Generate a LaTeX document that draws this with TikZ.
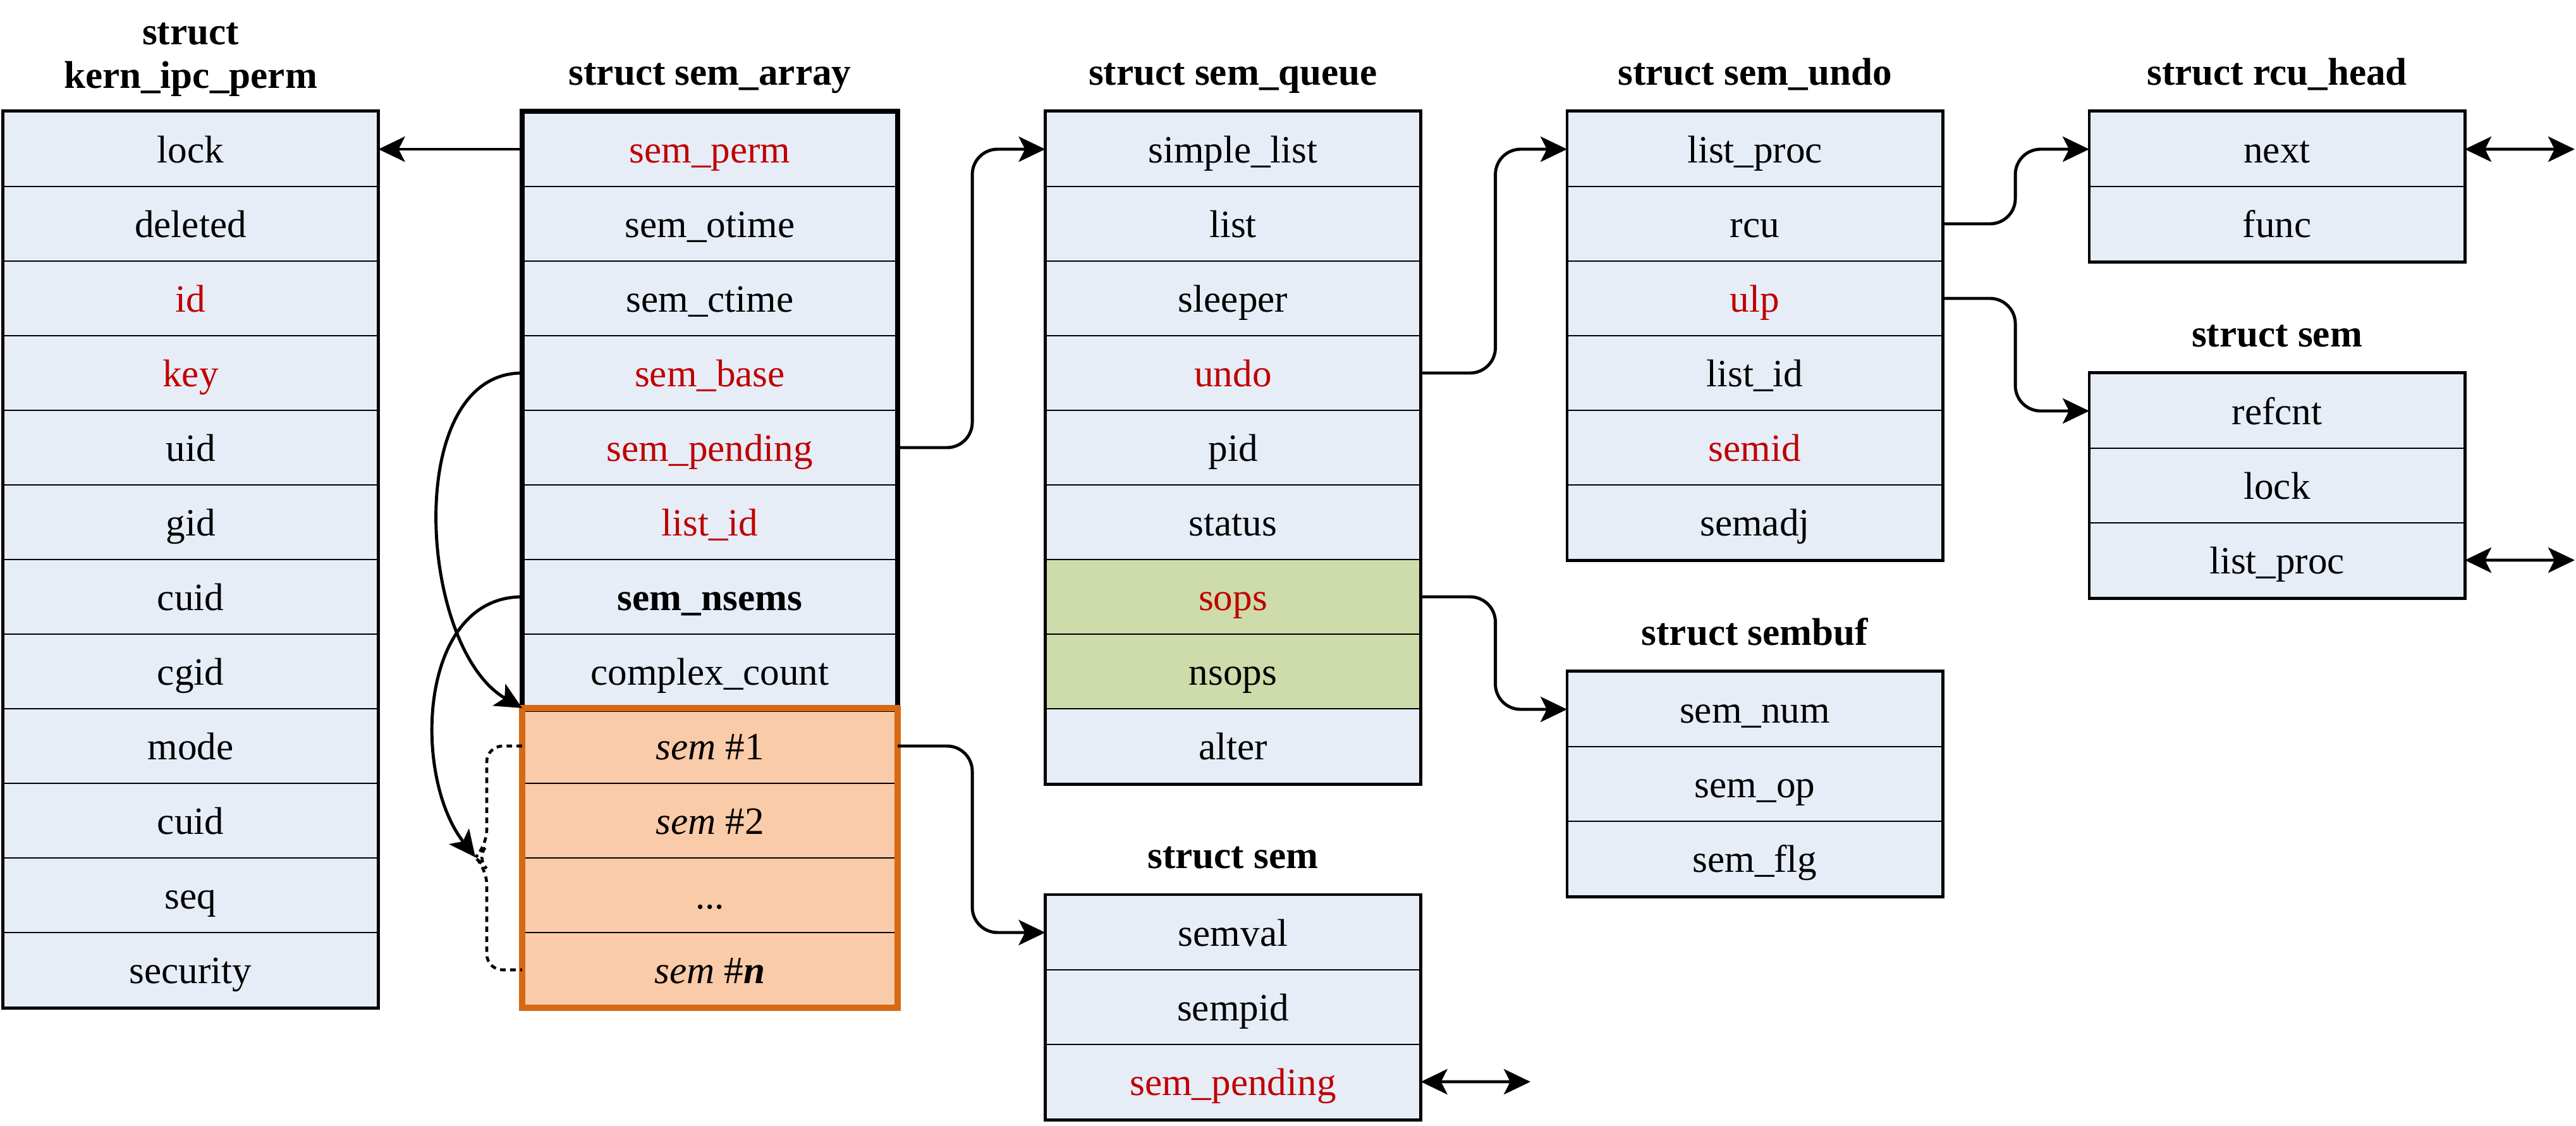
\documentclass[tikz,border=0pt]{standalone}
\usepackage{fontspec}
\setmainfont{Liberation Serif}
\usetikzlibrary{arrows.meta}
\definecolor{fieldblue}{RGB}{231,237,247}
\definecolor{fieldgreen}{RGB}{205,220,170}
\definecolor{fieldorange}{RGB}{250,203,168}
\definecolor{edgeorange}{RGB}{215,105,20}
\definecolor{fieldred}{RGB}{192,0,0}
\newcommand{\hot}[1]{\textcolor{fieldred}{#1}}
\newcommand{\semno}[1]{\textit{sem} \##1}
\newcommand{\moresems}{...}
\tikzset {
    field/.style = {
        draw, line width = 0.6pt, fill = fieldblue,
        minimum width = 5.92cm, minimum height = 1.18cm, inner sep = 0pt,
        text height = 15pt, text depth = 3pt,
        font = \fontsize{17.4}{20}\selectfont
    },
    greenfield/.style = {field, fill = fieldgreen},
    orangefield/.style = {field, fill = fieldorange},
    frame/.style = {line width = 1.4pt},
    heavy frame/.style = {line width = 2.3pt},
    orange frame/.style = {line width = 2.8pt, draw = edgeorange},
    title/.style = {anchor = base, font = \fontsize{17.4}{20}\selectfont\bfseries},
    >= {Stealth[length = 0.42cm, width = 0.4cm, inset = 0.1cm]},
    link/.style = {line width = 1.4pt, ->, rounded corners = 0.4cm},
    twoway/.style = {line width = 1.4pt, <->},
    brace/.style = {line width = 1.3pt, dash pattern = on 2.5pt off 2pt, rounded corners = 0.25cm}
}

\begin{document}
\begin{tikzpicture}
    \useasboundingbox (0, 0) rectangle (40.75, -17.81);
    % struct kern_ipc_perm
    \foreach \f [count = \i] in {lock, deleted, \hot{id}, \hot{key}, uid, gid,
        cuid, cgid, mode, cuid, seq, security}
        \node[field] (kern\i) at (3.015, {-1.18*(\i+1)}) {\f};
    \draw[frame] (kern1.north west) rectangle (kern12.south east);
    \node[title] (kernhead1) at (3.015, -0.71) {struct};
    \node[title] (kernhead2) at (3.015, -1.39) {kern\_ipc\_perm};
    % struct sem_array
    \foreach \f [count = \i] in {\hot{sem\_perm}, sem\_otime, sem\_ctime,
        \hot{sem\_base}, \hot{sem\_pending}, \hot{list\_id},
        \textbf{sem\_nsems}, complex\_count}
        \node[field] (arr\i) at (11.23, {-1.18*(\i+1)}) {\f};
    \node[orangefield] (arr9) at (11.23, -11.80) {\semno{1}};
    \node[orangefield] (arr10) at (11.23, -12.98) {\semno{2}};
    \node[orangefield] (arr11) at (11.23, -14.16) {\moresems};
    \node[orangefield] (arr12) at (11.23, -15.34) {\semno{\textbf{\textit{n}}}};
    \draw[heavy frame] (arr1.north west) rectangle (arr8.south east);
    \draw[orange frame] (arr9.north west) rectangle (arr12.south east);
    \node[title] (arrhead) at ([yshift = 0.41cm]arr1.north) {struct sem\_array};
    % struct sem_queue
    \foreach \f/\s [count = \i] in {simple\_list/field, list/field, sleeper/field,
        \hot{undo}/field, pid/field, status/field, \hot{sops}/greenfield,
        nsops/greenfield, alter/field}
        \node[\s] (queue\i) at (19.505, {-1.18*(\i+1)}) {\f};
    \draw[frame] (queue1.north west) rectangle (queue9.south east);
    \node[title] (queuehead) at ([yshift = 0.41cm]queue1.north) {struct sem\_queue};
    % struct sem_undo
    \foreach \f [count = \i] in {list\_proc, rcu, \hot{ulp}, list\_id, \hot{semid}, semadj}
        \node[field] (undo\i) at (27.76, {-1.18*(\i+1)}) {\f};
    \draw[frame] (undo1.north west) rectangle (undo6.south east);
    \node[title] (undohead) at ([yshift = 0.41cm]undo1.north) {struct sem\_undo};
    % struct rcu_head
    \foreach \f [count = \i] in {next, func}
        \node[field] (rcu\i) at (36.02, {-1.18*(\i+1)}) {\f};
    \draw[frame] (rcu1.north west) rectangle (rcu2.south east);
    \node[title] (rcuhead) at ([yshift = 0.41cm]rcu1.north) {struct rcu\_head};
    % struct sem (right)
    \foreach \f [count = \i] in {refcnt, lock, list\_proc}
        \node[field] (rsem\i) at (36.02, {-5.32-1.18*\i}) {\f};
    \draw[frame] (rsem1.north west) rectangle (rsem3.south east);
    \node[title] (rsemhead) at ([yshift = 0.41cm]rsem1.north) {struct sem};
    % struct sembuf
    \foreach \f [count = \i] in {sem\_num, sem\_op, sem\_flg}
        \node[field] (buf\i) at (27.76, {-10.04-1.18*\i}) {\f};
    \draw[frame] (buf1.north west) rectangle (buf3.south east);
    \node[title] (bufhead) at ([yshift = 0.41cm]buf1.north) {struct sembuf};
    % struct sem (bottom)
    \foreach \f [count = \i] in {semval, sempid, \hot{sem\_pending}}
        \node[field] (sem\i) at (19.505, {-13.57-1.18*\i}) {\f};
    \draw[frame] (sem1.north west) rectangle (sem3.south east);
    \node[title] (semhead) at ([yshift = 0.41cm]sem1.north) {struct sem};
    % free ends
    \coordinate (rcuend) at (40.73, -2.36);
    \coordinate (rsemend) at (40.73, -8.86);
    \coordinate (semend) at (24.21, -17.11);
    \coordinate (bracetip) at (7.52, -13.56);
    % links
    \draw[link] (arr1.west) -- (kern1.east);
    \draw[link] (arr5.east) -- ++(1.18, 0) |- (queue1.west);
    \draw[link] (arr9.east) -- ++(1.18, 0) |- (sem1.west);
    \draw[link] (queue4.east) -- ++(1.18, 0) |- (undo1.west);
    \draw[link] (queue7.east) -- ++(1.18, 0) |- (buf1.west);
    \draw[link] (undo2.east) -- ++(1.15, 0) |- (rcu1.west);
    \draw[link] (undo3.east) -- ++(1.15, 0) |- (rsem1.west);
    \draw[twoway] (rcu1.east) -- (rcuend);
    \draw[twoway] (rsem3.east) -- (rsemend);
    \draw[twoway] (sem3.east) -- (semend);
    \draw[link] (arr4.west) to[out = 180, in = 150, looseness = 0.92] (arr9.north west);
    \draw[link] (arr7.west) to[out = 180, in = 128] (bracetip);
    \draw[brace] (arr9.west) -| (7.70, -13.38) -- (bracetip)
        -- (7.70, -13.74) |- (arr12.west);
\end{tikzpicture}
\end{document}
